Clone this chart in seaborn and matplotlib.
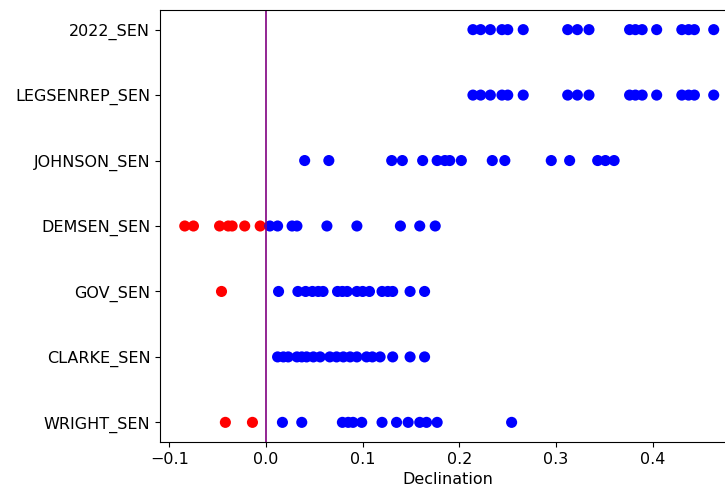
import numpy as np
import pandas as pd
import matplotlib
matplotlib.use('Agg')
import matplotlib.pyplot as plt
import seaborn as sns

# Declination values per plan
wright_sen = [-0.042, -0.014, 0.017, 0.037, 0.079, 0.085, 0.090, 0.099, 0.120, 0.135,
              0.147, 0.159, 0.166, 0.177, 0.254]
clarke_sen = [0.012, 0.018, 0.023, 0.032, 0.037, 0.042, 0.049, 0.056, 0.066, 0.073,
              0.080, 0.087, 0.094, 0.104, 0.110, 0.118, 0.131, 0.149, 0.164]
gov_sen = [-0.046, 0.013, 0.033, 0.041, 0.048, 0.054, 0.059, 0.074, 0.079, 0.084,
           0.094, 0.100, 0.107, 0.120, 0.126, 0.131, 0.149, 0.164]
demsen_sen = [-0.084, -0.075, -0.048, -0.039, -0.035, -0.022, -0.006, 0.004, 0.012,
              0.027, 0.032, 0.063, 0.094, 0.139, 0.159, 0.175]
johnson_sen = [0.040, 0.065, 0.130, 0.141, 0.162, 0.177, 0.185, 0.190, 0.202, 0.234,
               0.247, 0.295, 0.314, 0.343, 0.351, 0.360]
legsenrep_sen = [0.214, 0.222, 0.232, 0.244, 0.250, 0.266, 0.312, 0.322, 0.334, 0.376,
                 0.382, 0.389, 0.404, 0.430, 0.437, 0.443, 0.463]
sen_2022 = [0.214, 0.222, 0.232, 0.244, 0.250, 0.266, 0.312, 0.322, 0.334, 0.376,
            0.382, 0.389, 0.404, 0.430, 0.437, 0.443, 0.463]

plans = ['WRIGHT_SEN', 'CLARKE_SEN', 'GOV_SEN', 'DEMSEN_SEN', 'JOHNSON_SEN',
         'LEGSENREP_SEN', '2022_SEN']
values = [wright_sen, clarke_sen, gov_sen, demsen_sen, johnson_sen, legsenrep_sen, sen_2022]

rows = []
for plan, vals in zip(plans, values):
    for v in vals:
        rows.append({'plan': plan, 'dec': v, 'side': 'neg' if v < 0 else 'pos'})
df = pd.DataFrame(rows)

plt.rcParams['font.size'] = 11.5

fig = plt.figure(figsize=(7.25, 4.95), dpi=100)
ax = fig.add_axes([160 / 725, 53 / 495, 575 / 725, 432 / 495])

sns.scatterplot(data=df, x='dec', y='plan', hue='side',
                palette={'neg': 'red', 'pos': 'blue'},
                s=64, linewidth=0, legend=False, ax=ax)
ax.axvline(0, color='purple', lw=1.2)

ax.set_xlim(-0.1096, 0.4850)
ax.set_ylim(-0.3, 6.3)
ax.set_xticks([-0.1, 0.0, 0.1, 0.2, 0.3, 0.4])
ax.set_xlabel('Declination')
ax.set_ylabel('')

fig.savefig('out.png', dpi=100)
